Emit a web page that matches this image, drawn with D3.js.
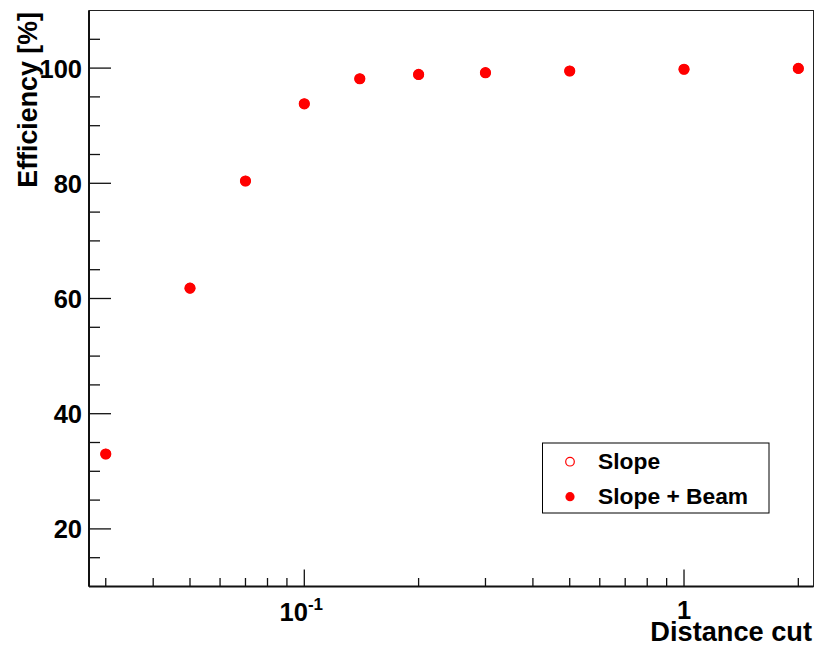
<!DOCTYPE html>
<html>
<head>
<meta charset="utf-8">
<script src="https://cdn.jsdelivr.net/npm/d3@7"></script>
<style>
  html, body { margin: 0; padding: 0; background: #fff; }
  svg { display: block; }
  text { font-family: "Liberation Sans", Arial, Helvetica, sans-serif; font-weight: bold; fill: #000; }
</style>
</head>
<body>
<svg id="chart" width="818" height="646"></svg>
<script>
// ---- data ----
const distanceCuts = [0.03, 0.05, 0.07, 0.1, 0.14, 0.2, 0.3, 0.5, 1, 2];
const effSlope     = [33.0, 61.8, 80.4, 93.8, 98.15, 98.9, 99.2, 99.5, 99.8, 99.95];
const effSlopeBeam = [33.0, 61.8, 80.4, 93.8, 98.15, 98.9, 99.2, 99.5, 99.8, 99.95];
const yTickValues  = [20, 40, 60, 80, 100];
const xMajorTicks  = [0.1, 1];
const seriesNames  = ["Slope", "Slope + Beam"];

// ---- layout ----
const svg = d3.select("#chart");
const L = 89, R = 813.5, T = 10.5, B = 586.5;
const red = "#ff0000";

svg.append("rect").attr("width", 818).attr("height", 646).attr("fill", "#fff");

const x = d3.scaleLog().domain([Math.pow(10, -1.567), Math.pow(10, 0.341)]).range([L, R]);
const y = d3.scaleLinear().domain([10, 110]).range([B, T]);

// frame (top/right)
svg.append("rect").attr("x", L).attr("y", T).attr("width", R - L).attr("height", B - T)
  .attr("fill", "none").attr("stroke", "#222").attr("stroke-width", 1);

// y ticks
const yMinor = d3.range(15, 110, 5).filter(v => !yTickValues.includes(v));
const gY = svg.append("g");
gY.selectAll("line.maj").data(yTickValues).join("line")
  .attr("x1", L).attr("x2", L + 22).attr("y1", d => y(d)).attr("y2", d => y(d))
  .attr("stroke", "#111").attr("stroke-width", 1.3);
gY.selectAll("line.min").data(yMinor).join("line")
  .attr("x1", L).attr("x2", L + 11).attr("y1", d => y(d)).attr("y2", d => y(d))
  .attr("stroke", "#111").attr("stroke-width", 1.3);
gY.selectAll("text").data(yTickValues).join("text")
  .attr("x", L - 7).attr("y", d => y(d) + 9.5)
  .attr("text-anchor", "end").attr("font-size", 25.5).text(d => d);

// x ticks
const [xd0, xd1] = x.domain();
const xMinor = [];
for (let e = -2; e <= 0; e++) {
  for (let m = 2; m <= 9; m++) {
    const v = m * Math.pow(10, e);
    if (v >= xd0 && v <= xd1) xMinor.push(v);
  }
}
const gX = svg.append("g");
gX.selectAll("line.maj").data(xMajorTicks).join("line")
  .attr("x1", d => x(d)).attr("x2", d => x(d)).attr("y1", B).attr("y2", B - 17)
  .attr("stroke", "#111").attr("stroke-width", 1.3);
gX.selectAll("line.min").data(xMinor).join("line")
  .attr("x1", d => x(d)).attr("x2", d => x(d)).attr("y1", B).attr("y2", B - 8.5)
  .attr("stroke", "#111").attr("stroke-width", 1.3);

// x tick labels
const lab1 = svg.append("text").attr("x", x(0.1) - 3).attr("y", 621)
  .attr("text-anchor", "middle").attr("font-size", 25.5);
lab1.append("tspan").text("10");
lab1.append("tspan").attr("font-size", 17).attr("dy", -11).text("-1");
svg.append("text").attr("x", x(1)).attr("y", 619)
  .attr("text-anchor", "middle").attr("font-size", 25.5).text("1");

// axes lines
svg.append("line").attr("x1", L).attr("x2", L).attr("y1", T).attr("y2", B)
  .attr("stroke", "#111").attr("stroke-width", 2);
svg.append("line").attr("x1", L).attr("x2", R).attr("y1", B).attr("y2", B)
  .attr("stroke", "#111").attr("stroke-width", 2);

// axis titles
svg.append("text").attr("transform", "translate(37,12) rotate(-90)")
  .attr("text-anchor", "end").attr("font-size", 26.8).text("Efficiency [%]");
svg.append("text").attr("x", 812).attr("y", 640.5)
  .attr("text-anchor", "end").attr("font-size", 27.2).text("Distance cut");

// data points
svg.append("g").selectAll("circle").data(distanceCuts.map((d, i) => [d, effSlope[i]])).join("circle")
  .attr("cx", d => x(d[0])).attr("cy", d => y(d[1])).attr("r", 5)
  .attr("fill", "none").attr("stroke", red).attr("stroke-width", 1.2);
svg.append("g").selectAll("circle").data(distanceCuts.map((d, i) => [d, effSlopeBeam[i]])).join("circle")
  .attr("cx", d => x(d[0])).attr("cy", d => y(d[1])).attr("r", 5.3)
  .attr("fill", red);

// legend
const lg = svg.append("g");
lg.append("rect").attr("x", 542.5).attr("y", 443).attr("width", 226.5).attr("height", 70)
  .attr("fill", "#fff").attr("stroke", "#000").attr("stroke-width", 1);
const rows = [461.7, 496.7];
lg.append("circle").attr("cx", 570).attr("cy", rows[0]).attr("r", 4.3)
  .attr("fill", "none").attr("stroke", red).attr("stroke-width", 1.2);
lg.append("circle").attr("cx", 570).attr("cy", rows[1]).attr("r", 4.6).attr("fill", red);
lg.selectAll("text").data(seriesNames).join("text")
  .attr("x", 598).attr("y", (d, i) => rows[i] + 7.5)
  .attr("font-size", 22.8).text(d => d);
</script>
</body>
</html>
